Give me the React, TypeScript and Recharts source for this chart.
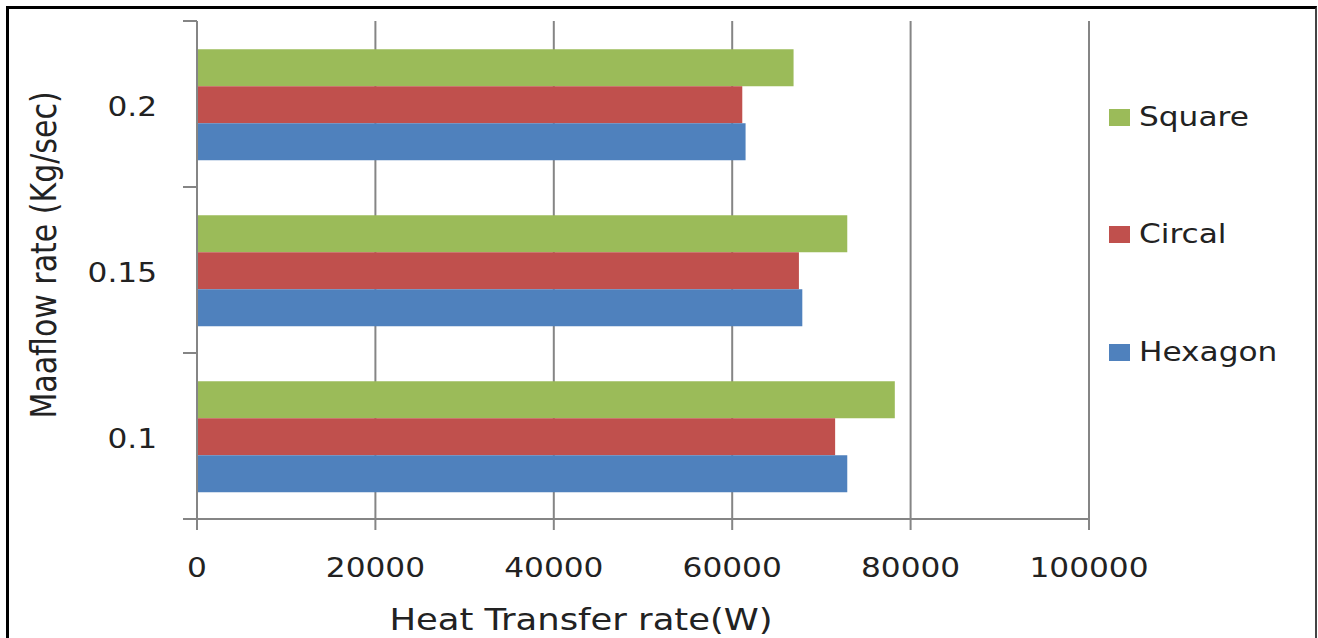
import React from 'react';
import { BarChart, Bar, XAxis, YAxis, CartesianGrid, Label } from 'recharts';

const flowRates = ['0.1', '0.15', '0.2'];
const hexagon = [72900, 67860, 61500];
const circal = [71540, 67480, 61130];
const square = [78230, 72900, 66880];
const xTicks = [0, 20000, 40000, 60000, 80000, 100000];

const seriesNames = ['Square', 'Circal', 'Hexagon'];
const seriesColors = ['#9BBB59', '#C0504D', '#4F81BD'];
const seriesKeys = ['square', 'circal', 'hexagon'];

const xTitle = 'Heat Transfer rate(W)';
const yTitle = 'Maaflow rate (Kg/sec)';

const data = flowRates.map((f, i) => ({
  flow: f,
  hexagon: hexagon[i],
  circal: circal[i],
  square: square[i],
}));

const FONT = '"DejaVu Sans", sans-serif';
const TEXT = '#222222';
const GRID = '#858585';
const SX = 1.2;

const XTick = (props: any) => {
  const { x, y, payload } = props;
  return (
    <text
      transform={`translate(${x},${y}) scale(${SX},1)`}
      dy="0.71em"
      textAnchor="middle"
      fontFamily={FONT}
      fontSize={26}
      fill={TEXT}
    >
      {payload.value}
    </text>
  );
};

const YTick = (props: any) => {
  const { x, y, payload } = props;
  const axisX = x + 40;
  const off = payload.offset || 0;
  return (
    <g>
      <line x1={axisX - 14} x2={axisX} y1={y - off} y2={y - off} stroke={GRID} strokeWidth={2} />
      <line x1={axisX - 14} x2={axisX} y1={y + off} y2={y + off} stroke={GRID} strokeWidth={2} />
      <text
        transform={`translate(${x},${y + 3}) scale(${SX},1)`}
        dy="0.355em"
        textAnchor="end"
        fontFamily={FONT}
        fontSize={26}
        fill={TEXT}
      >
        {payload.value}
      </text>
    </g>
  );
};

const XTitle = (props: any) => {
  const vb = props.viewBox || {};
  const cx = vb.x + vb.width / 2 - 62;
  const by = vb.y + vb.height - 8;
  return (
    <text
      transform={`translate(${cx},${by}) scale(1.18,1)`}
      textAnchor="middle"
      fontFamily={FONT}
      fontSize={30}
      fill={TEXT}
    >
      {props.value}
    </text>
  );
};

const YTitle = (props: any) => {
  const vb = props.viewBox || {};
  const cx = vb.x + 43;
  const cy = vb.y + vb.height / 2 - 15;
  return (
    <text
      transform={`translate(${cx},${cy}) scale(${SX},1) rotate(-90)`}
      textAnchor="middle"
      dy="0.355em"
      fontFamily={FONT}
      fontSize={30}
      fill={TEXT}
    >
      {props.value}
    </text>
  );
};

export default function App() {
  return (
    <div style={{ position: 'absolute', left: 0, top: 0, width: 1318, height: 638, overflow: 'hidden', background: '#fff' }}>
      <div
        style={{
          position: 'absolute',
          left: 6,
          top: 6,
          width: 1311,
          height: 700,
          boxSizing: 'border-box',
          borderTop: '3px solid #000',
          borderLeft: '3px solid #000',
          borderRight: '2px solid #444',
        }}
      />
      <div style={{ position: 'absolute', left: 0, top: 0 }}>
        <BarChart
          width={1318}
          height={638}
          layout="vertical"
          data={data}
          margin={{ top: 21, right: 229, bottom: 0, left: 0 }}
          barCategoryGap="17%"
          barGap={0}
        >
          <CartesianGrid horizontal={false} vertical stroke={GRID} strokeWidth={2} />
          <XAxis
            type="number"
            domain={[0, 100000]}
            ticks={xTicks}
            interval={0}
            height={119}
            tickSize={11}
            tickMargin={29}
            stroke={GRID}
            strokeWidth={2}
            tick={<XTick />}
          >
            <Label value={xTitle} content={<XTitle value={xTitle} />} />
          </XAxis>
          <YAxis
            type="category"
            dataKey="flow"
            reversed
            width={197}
            tickLine={false}
            tickSize={0}
            tickMargin={40}
            stroke={GRID}
            strokeWidth={2}
            interval={0}
            tick={<YTick />}
          >
            <Label value={yTitle} content={<YTitle value={yTitle} />} />
          </YAxis>
          {seriesKeys.map((k, i) => (
            <Bar key={k} dataKey={k} name={seriesNames[i]} fill={seriesColors[i]} isAnimationActive={false} />
          ))}
        </BarChart>
      </div>
      {seriesNames.map((n, i) => (
        <div
          key={n}
          style={{
            position: 'absolute',
            left: 1109,
            top: [117, 234, 352][i] - 16,
            height: 32,
            display: 'flex',
            alignItems: 'center',
            fontFamily: FONT,
            fontSize: 26,
            color: TEXT,
            whiteSpace: 'nowrap',
          }}
        >
          <span style={{ display: 'inline-block', width: 21, height: 17, background: seriesColors[i], marginRight: 9 }} />
          <span style={{ display: 'inline-block', transform: `scale(${SX},1)`, transformOrigin: 'left center' }}>{n}</span>
        </div>
      ))}
    </div>
  );
}
